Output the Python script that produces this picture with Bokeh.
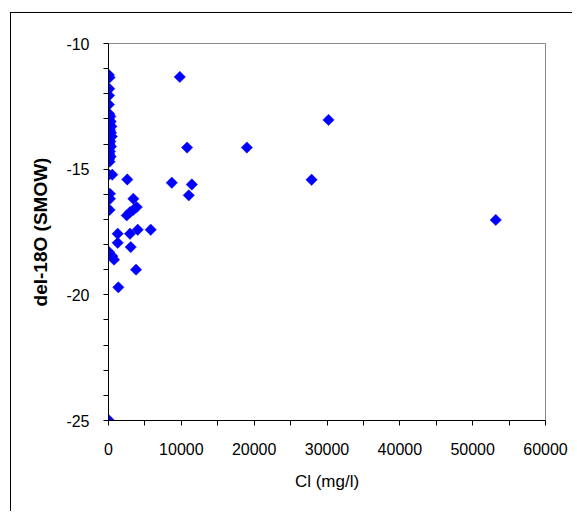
import numpy as np
from bokeh.plotting import figure
from bokeh.models import FixedTicker, ColumnDataSource, PrintfTickFormatter
from bokeh.embed import file_html
from bokeh.resources import INLINE

# Data (Cl in mg/l, del-18O in permil SMOW)
cl = [50, 150, 100, 80, 60,
      100, 250, 50, 300, 150, 400, 80, 200, 350, 120, 450, 60, 250, 150, 350, 50, 200, 100, 300, 80, 150,
      50, 520, 200, 200, 150, 70, 520, 760, 80,
      2580, 3410, 3880, 3410, 2950, 2500, 1260, 2950, 4010, 5800, 1260, 3050, 3780, 1350,
      9790, 30210, 10790, 19000, 8690, 11440, 11020, 27880, 53170]
d18o = [-11.25, -11.35, -11.8, -12.07, -12.43,
        -12.8, -12.9, -13.0, -13.1, -13.2, -13.3, -13.4, -13.45, -13.55, -13.65, -13.7, -13.8, -13.9, -14.0, -14.1, -14.2, -14.3, -14.4, -14.5, -14.6, -14.7,
        -15.22, -15.22, -15.98, -16.18, -16.62, -18.3, -18.46, -18.6, -25.0,
        -15.41, -16.18, -16.51, -16.62, -16.71, -16.84, -17.57, -17.57, -17.41, -17.41, -17.93, -18.1, -19.0, -19.7,
        -11.33, -13.04, -14.14, -14.14, -15.54, -15.61, -16.04, -15.42, -17.02]

x_major = [0, 10000, 20000, 30000, 40000, 50000, 60000]
x_minor = [5000, 15000, 25000, 35000, 45000, 55000]
y_major = [-25, -20, -15, -10]
y_minor = [-24, -23, -22, -21, -19, -18, -17, -16, -14, -13, -12, -11]

FONT = "Liberation Sans"

p = figure(width=562, height=499, output_backend="svg", toolbar_location=None,
           x_range=(0, 60000), y_range=(-25, -10),
           min_border_left=97, min_border_right=28, min_border_top=30, min_border_bottom=92)
p.margin = (12, 0, 0, 10)
p.styles = {"border-left": "1px solid #000000", "border-top": "1px solid #000000"}

src = ColumnDataSource(dict(cl=cl, d18o=d18o))
p.scatter("cl", "d18o", source=src, marker="square", angle=np.pi / 4, size=8,
          fill_color="#0000FF", line_color="#0000FF", line_width=0.5)

p.grid.visible = False
p.outline_line_color = "#888888"
p.outline_line_width = 1
p.background_fill_color = "white"
p.border_fill_color = "white"

xa = p.xaxis[0]
xa.ticker = FixedTicker(ticks=x_major, minor_ticks=x_minor)
xa.formatter = PrintfTickFormatter(format="%d")
xa.axis_label = "Cl (mg/l)"
ya = p.yaxis[0]
ya.ticker = FixedTicker(ticks=y_major, minor_ticks=y_minor)
ya.formatter = PrintfTickFormatter(format="%d")
ya.axis_label = "del-18O (SMOW)"

for ax in (xa, ya):
    ax.axis_line_color = "black"
    ax.axis_line_width = 1
    ax.major_tick_line_color = "black"
    ax.minor_tick_line_color = "black"
    ax.major_tick_in = 0
    ax.major_tick_out = 5
    ax.minor_tick_in = 0
    ax.minor_tick_out = 5
    ax.major_label_text_font = FONT
    ax.major_label_text_font_size = "16px"
    ax.major_label_text_color = "black"
    ax.axis_label_text_font = FONT
    ax.axis_label_text_color = "black"

xa.major_label_standoff = 17
xa.axis_label_text_font_size = "17px"
xa.axis_label_text_font_style = "normal"
xa.axis_label_standoff = 14
ya.major_label_standoff = 14
ya.axis_label_text_font_size = "19px"
ya.axis_label_text_font_style = "bold"
ya.axis_label_standoff = 12

open("out.html", "w").write(file_html(p, INLINE))
